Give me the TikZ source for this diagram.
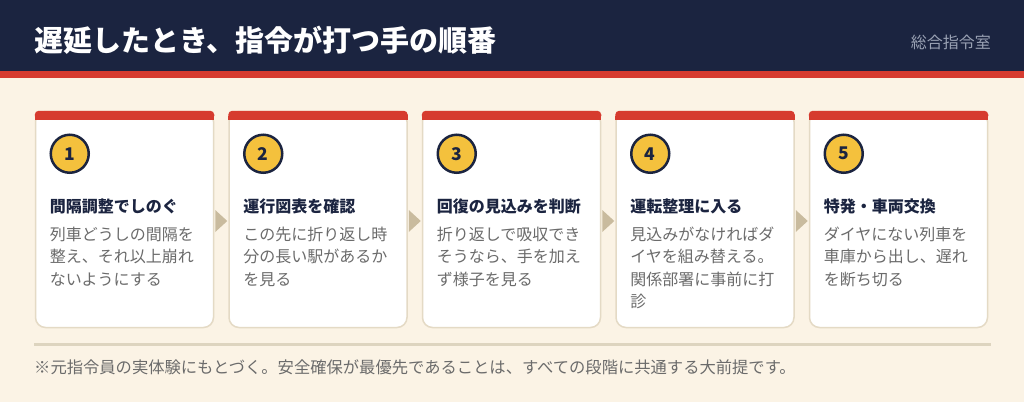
\documentclass[tikz,border=0pt]{standalone}
\usepackage{fontspec}
\setmainfont{Noto Sans CJK JP}
\usetikzlibrary{positioning,calc}

\definecolor{cream}{HTML}{FBF3E5}
\definecolor{navy}{HTML}{1B2440}
\definecolor{stripe}{HTML}{D63B2F}
\definecolor{cardline}{HTML}{E4DAC5}
\definecolor{stepyellow}{HTML}{F4C13D}
\definecolor{bodygray}{HTML}{6B6B6B}
\definecolor{arrowtan}{HTML}{C9BB9E}
\definecolor{rulebeige}{HTML}{DDD4BF}
\definecolor{officegray}{HTML}{9AA2B4}

\tikzset{
  card/.style={draw=cardline, fill=white, line width=1.5pt, rounded corners=10pt,
    minimum width=178pt, minimum height=216pt, inner sep=0pt},
  stepnum/.style={circle, draw=navy, fill=stepyellow, line width=2.5pt, minimum size=38pt,
    inner sep=0pt, text=navy, font=\bfseries\fontsize{17.5}{17.5}\selectfont},
  stephead/.style={anchor=west, inner sep=0pt, text=navy, font=\bfseries\fontsize{16}{16}\selectfont},
  stepbody/.style={anchor=north west, inner sep=0pt, align=left, text=bodygray,
    font=\fontsize{16}{22.5}\selectfont},
}

\begin{document}
\begin{tikzpicture}[x=1pt,y=-1pt]
    \useasboundingbox (0,0) rectangle (1024,402);
    \fill[cream] (0,0) rectangle (1024,402);
    \fill[navy] (0,0) rectangle (1024,71);
    \fill[stripe] (0,71) rectangle (1024,78);
    \node[anchor=west, inner sep=0pt, text=white, font=\bfseries\fontsize{29}{29}\selectfont] (title) at (34,40) {遅延したとき、指令が打つ手の順番};
    \node[anchor=east, inner sep=0pt, text=officegray, font=\fontsize{16}{16}\selectfont] (office) at (991,42) {総合指令室};

    % the five steps
    \foreach \i/\head/\body in {
        1/間隔調整でしのぐ/{列車どうしの間隔を\\整え、それ以上崩れ\\ないようにする},
        2/運行図表を確認/{この先に折り返し時\\分の長い駅があるか\\を見る},
        3/回復の見込みを判断/{折り返しで吸収でき\\そうなら、手を加え\\ず様子を見る},
        4/運転整理に入る/{見込みがなければダ\\イヤを組み替える。\\関係部署に事前に打\\診},
        5/特発・車両交換/{ダイヤにない列車を\\車庫から出し、遅れ\\を断ち切る}} {
        \node[card] (card\i) at ({124.5+(\i-1)*193.5},219.5) {};
        \fill[stripe, rounded corners=4pt] (card\i.north west) rectangle ([yshift=-9pt]card\i.north east);
        \fill[stripe] ([yshift=-5pt]card\i.north west) rectangle ([yshift=-9pt]card\i.north east);
        \node[stepnum] (num\i) at ($(card\i.north west)+(35,43)$) {\i};
        \node[stephead] (head\i) at ($(card\i.north west)+(15,96)$) {\head};
        \node[stepbody] (body\i) at ($(card\i.north west)+(15,116)$) {\body};
    }

    % arrows between the steps
    \foreach \i in {1,...,4} {
        \fill[arrowtan] ($(card\i.east)+(1,-9.5)$) -- ($(card\i.east)+(13,1.5)$) -- ($(card\i.east)+(1,12.5)$) -- cycle;
    }

    \coordinate (ruleL) at (34,344);
    \coordinate (ruleR) at (991,344);
    \draw[rulebeige, line width=3pt] (ruleL) -- (ruleR);
    \node[anchor=west, inner sep=0pt, text=bodygray, font=\fontsize{16.3}{16.3}\selectfont] (note) at (34,367) {※元指令員の実体験にもとづく。安全確保が最優先であることは、すべての段階に共通する大前提です。};
\end{tikzpicture}
\end{document}
